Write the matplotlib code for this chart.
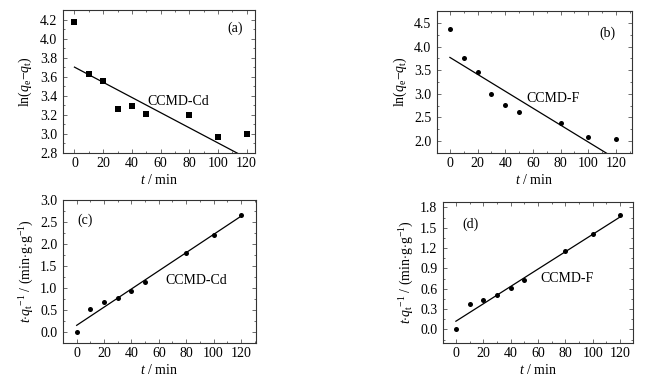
import matplotlib
matplotlib.use("Agg")
import matplotlib.pyplot as plt
from matplotlib.ticker import MultipleLocator

plt.rcParams["font.family"] = ["Liberation Serif", "DejaVu Serif"]
plt.rcParams["mathtext.fontset"] = "custom"
plt.rcParams["mathtext.rm"] = "Liberation Serif"
plt.rcParams["mathtext.it"] = "Liberation Serif:italic"

# time points, min
t = [0, 10, 20, 30, 40, 50, 80, 100, 120]

# pseudo-first-order, ln(qe - qt)
ln_cd = [4.17, 3.63, 3.55, 3.26, 3.29, 3.21, 3.20, 2.97, 3.00]
ln_f = [4.37, 3.75, 3.46, 3.00, 2.77, 2.61, 2.38, 2.08, 2.05]
# fitted lines: (intercept, slope)
fit_ln_cd = (3.70, -0.00796)
fit_ln_f = (3.77, -0.0179)

# pseudo-second-order, t/qt
tq_cd = [0.00, 0.53, 0.67, 0.77, 0.94, 1.13, 1.79, 2.21, 2.67]
tq_f = [0.00, 0.37, 0.43, 0.51, 0.61, 0.73, 1.15, 1.41, 1.69]
fit_tq_cd = (0.15, 0.02067)
fit_tq_f = (0.12, 0.01283)

fig = plt.figure(figsize=(6.63, 3.84), dpi=100)

panels = [
    # rect, y, fit, marker, ylim, xlim, major, minor, name, tag, tag pos, name pos, kind
    ([0.095, 0.602, 0.290, 0.372], ln_cd, fit_ln_cd, "s", (2.8, 4.3), (-8, 126), 0.2, 0.1,
     "CCMD-Cd", "(a)", (0.855, 0.87), (0.44, 0.36), "ln"),
    ([0.659, 0.602, 0.294, 0.369], ln_f, fit_ln_f, "o", (1.75, 4.75), (-9.4, 131.6), 0.5, 0.25,
     "CCMD-F", "(b)", (0.835, 0.845), (0.46, 0.38), "ln"),
    ([0.095, 0.107, 0.291, 0.372], tq_cd, fit_tq_cd, "o", (-0.25, 3.0), (-10, 131), 0.5, 0.25,
     "CCMD-Cd", "(c)", (0.075, 0.86), (0.53, 0.44), "tq"),
    ([0.668, 0.107, 0.287, 0.367], tq_f, fit_tq_f, "o", (-0.2, 1.88), (-9.5, 129.5), 0.3, 0.15,
     "CCMD-F", "(d)", (0.10, 0.84), (0.51, 0.46), "tq"),
]

for rect, y, fit, mk, ylim, xlim, ystep, yminor, name, tag, tagpos, namepos, kind in panels:
    ax = fig.add_axes(rect)
    ax.scatter(t, y, marker=mk, s=13, color="black", zorder=3, linewidths=0)
    b0, b1 = fit
    ax.plot([0, 120], [b0, b0 + b1 * 120], color="black", lw=0.9)
    ax.set_xlim(*xlim)
    ax.set_ylim(*ylim)
    ax.xaxis.set_major_locator(MultipleLocator(20))
    ax.xaxis.set_minor_locator(MultipleLocator(10))
    ax.yaxis.set_major_locator(MultipleLocator(ystep))
    ax.yaxis.set_minor_locator(MultipleLocator(yminor))
    ax.yaxis.set_major_formatter(plt.FormatStrFormatter("%.1f"))
    ax.tick_params(which="both", direction="in", top=True, right=True,
                   labelsize=10, width=0.6, color="#555555")
    ax.tick_params(axis="y", pad=4)
    ax.tick_params(axis="x", pad=3)
    ax.tick_params(which="major", length=3)
    ax.tick_params(which="minor", length=1.5)
    for sp in ax.spines.values():
        sp.set_linewidth(0.8)
        sp.set_color("#333333")
    ax.set_xlabel(r"$t$ / min", fontsize=10, labelpad=2)
    if kind == "ln":
        ax.set_ylabel(r"ln($q_\mathrm{e}$$-$$q_\mathrm{t}$)", fontsize=10, labelpad=4)
    else:
        ax.set_ylabel(r"$t$$\cdot$$q_\mathrm{t}$$^{-1}$ / (min$\cdot$g$\cdot$g$^{-1}$)",
                      fontsize=10, labelpad=3)
    ax.text(tagpos[0], tagpos[1], tag, transform=ax.transAxes, fontsize=10, va="center")
    ax.text(namepos[0], namepos[1], name, transform=ax.transAxes, fontsize=10, va="center")

fig.savefig("out.png", dpi=100)
